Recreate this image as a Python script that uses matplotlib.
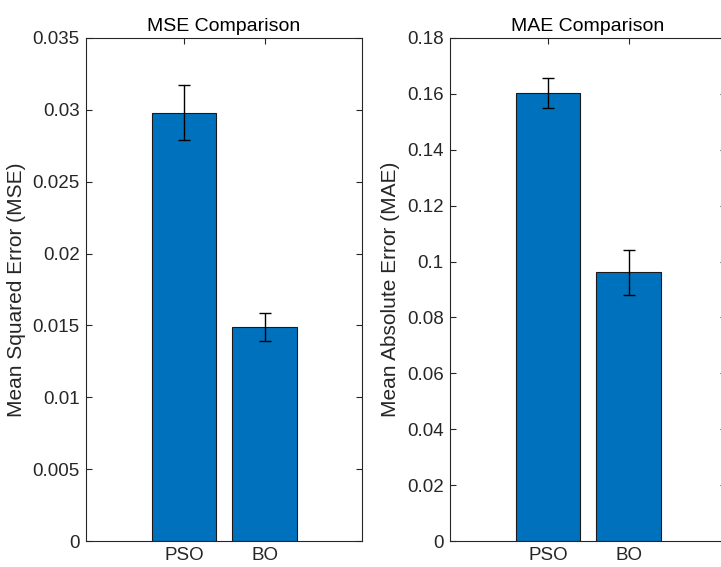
import matplotlib
matplotlib.use("Agg")
import matplotlib.pyplot as plt

# values
methods = ["PSO", "BO"]
mse_mean = [0.0298, 0.0149]
mse_err = [0.0019, 0.00096]
mae_mean = [0.1604, 0.0962]
mae_err = [0.0054, 0.0081]
mse_ticks = [0, 0.005, 0.01, 0.015, 0.02, 0.025, 0.03, 0.035]
mse_labels = ["0", "0.005", "0.01", "0.015", "0.02", "0.025", "0.03", "0.035"]
mae_ticks = [0, 0.02, 0.04, 0.06, 0.08, 0.1, 0.12, 0.14, 0.16, 0.18]
mae_labels = ["0", "0.02", "0.04", "0.06", "0.08", "0.1", "0.12", "0.14", "0.16", "0.18"]

plt.rcParams['font.family'] = ['Liberation Sans', 'DejaVu Sans']

W, H = 721, 567
fig = plt.figure(figsize=(W / 100, H / 100), dpi=100)

dark = "#262626"
blue = "#0072BD"


def draw_panel(ax, means, errs, ticks, labels, title, ylabel):
    x = [1, 2]
    ax.bar(x, means, width=0.8, color=blue, edgecolor="#1a1a1a", linewidth=0.8, zorder=2)
    ax.errorbar(x, means, yerr=errs, fmt="none", ecolor="black", elinewidth=1,
                capsize=4.3, capthick=1, zorder=3)
    ax.set_xlim(-0.21, 3.2)
    ax.set_ylim(ticks[0], ticks[-1])
    ax.set_xticks(x)
    ax.set_xticklabels(methods)
    ax.set_yticks(ticks)
    ax.set_yticklabels(labels)
    ax.tick_params(direction="in", top=True, right=True, colors=dark, labelsize=13.5,
                   length=4, width=0.8, pad=4.5)
    for s in ax.spines.values():
        s.set_color(dark)
        s.set_linewidth(0.8)
    ax.set_title(title, fontsize=14, color="black", pad=5)
    ax.set_ylabel(ylabel, fontsize=15, color=dark, labelpad=5)


ax1 = fig.add_axes([86 / W, 26 / H, 276 / W, 503 / H])
draw_panel(ax1, mse_mean, mse_err, mse_ticks, mse_labels,
           "MSE Comparison", "Mean Squared Error (MSE)")

ax2 = fig.add_axes([450 / W, 26 / H, 276 / W, 503 / H])
draw_panel(ax2, mae_mean, mae_err, mae_ticks, mae_labels,
           "MAE Comparison", "Mean Absolute Error (MAE)")

fig.savefig("out.png", dpi=100)
